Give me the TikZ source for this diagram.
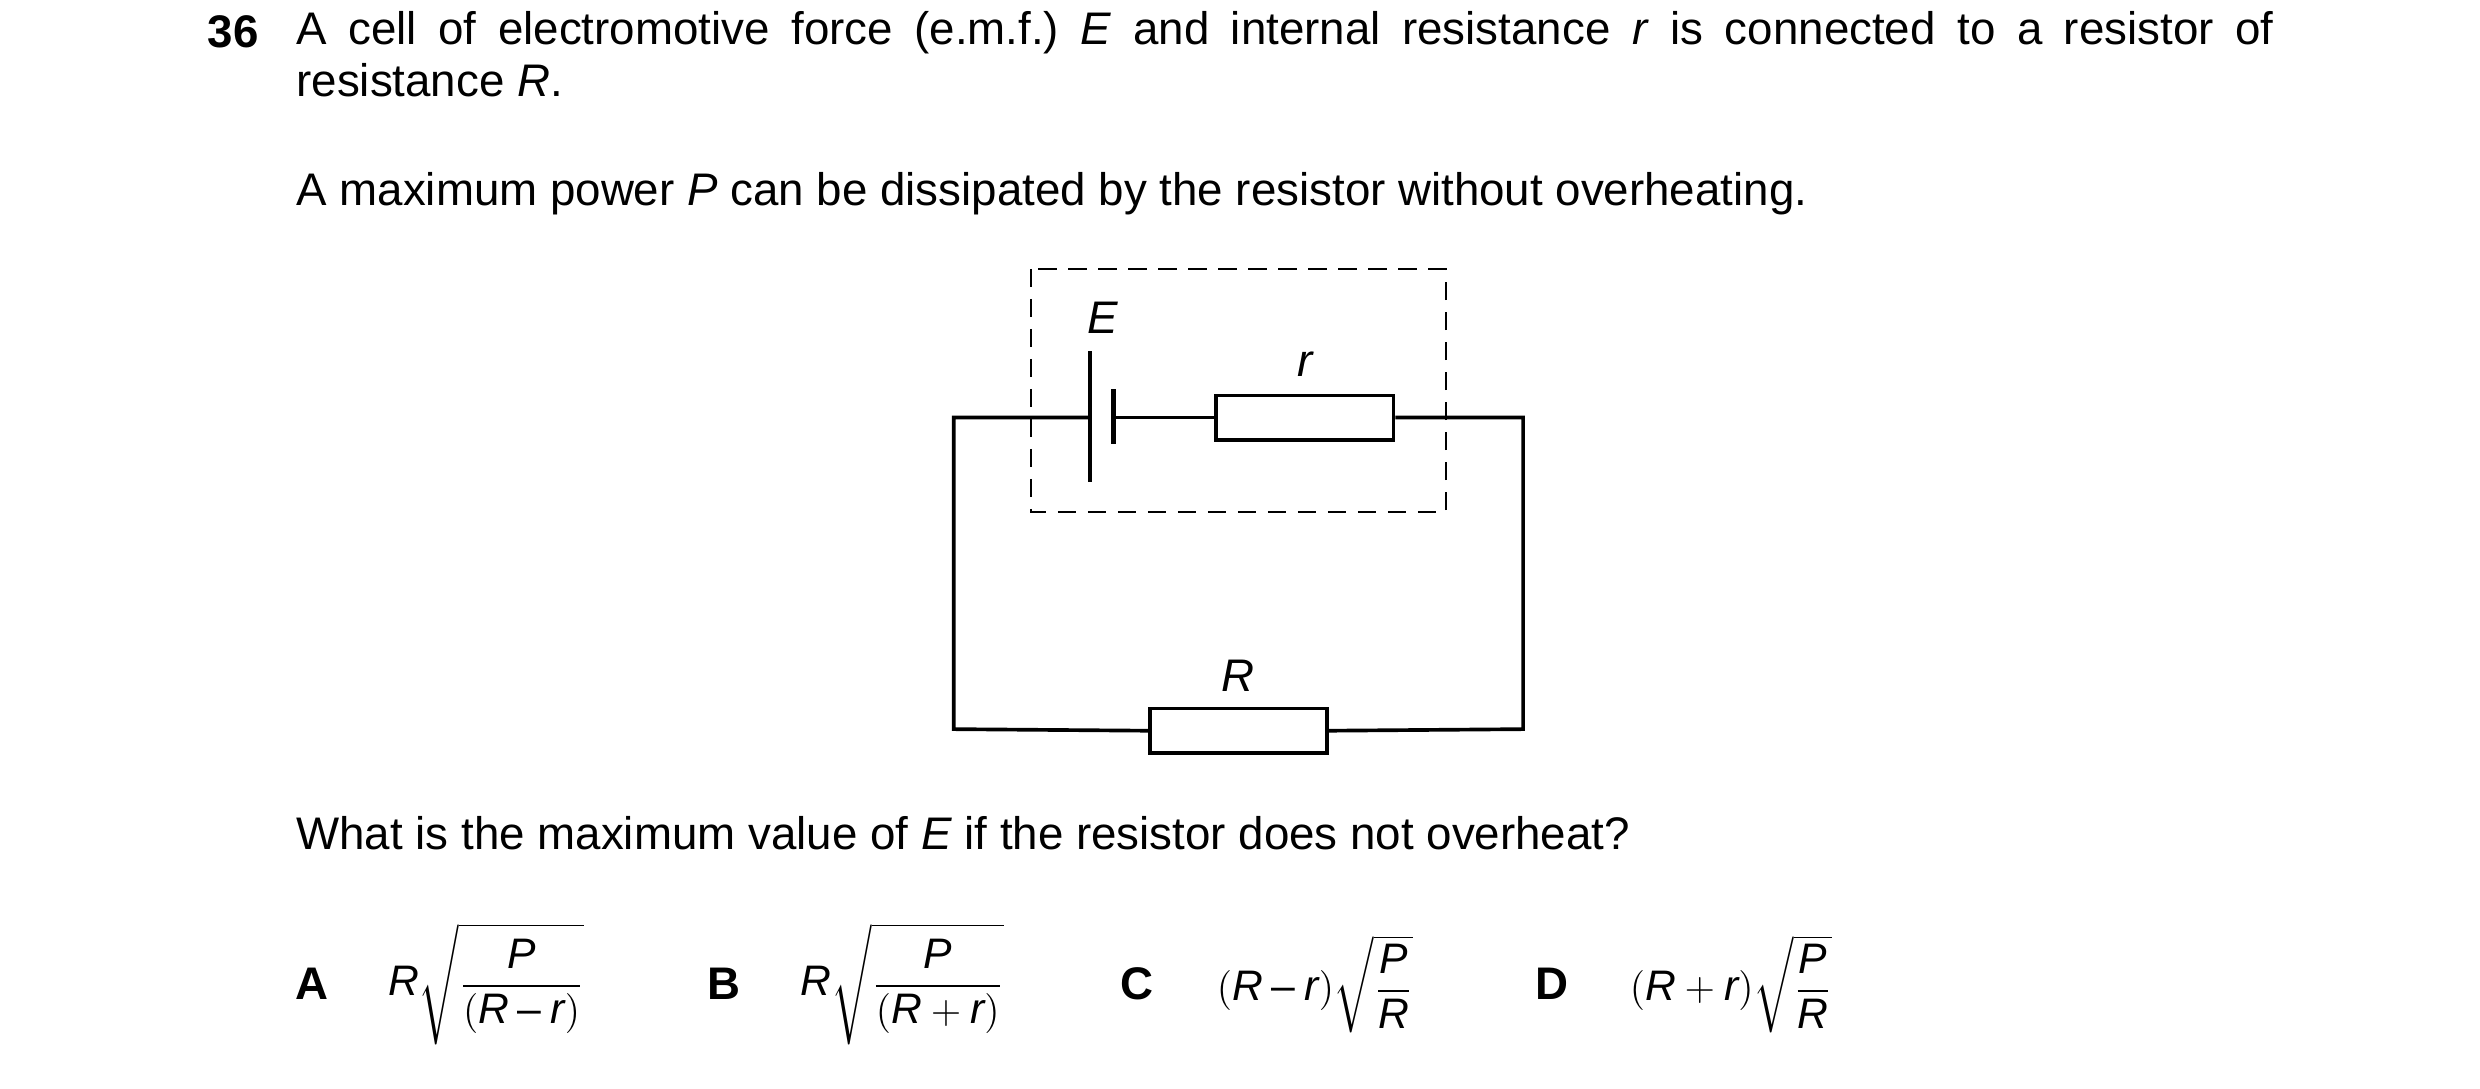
\documentclass[tikz,border=0pt]{standalone}
\usepackage{amsmath}
\usepackage{fontspec}
\setmainfont{Liberation Sans}
\usepackage[italic]{mathastext}
\frenchspacing
\begin{document}
\begin{tikzpicture}[x=0.1667mm,y=-0.1667mm,
  wire/.style={line width=1.1pt,line join=miter},
  res/.style={draw,line width=1.1pt,minimum width=112*0.1667mm,minimum height=28*0.1667mm,inner sep=0pt},
  txt/.style={font=\fontsize{13.7}{15.6}\selectfont,inner sep=0pt},
  fml/.style={font=\fontsize{12.8}{15.6}\selectfont,inner sep=0pt},
  lab/.style={font=\fontsize{13.7}{16}\selectfont\itshape,inner sep=0pt}]
\useasboundingbox (0,0) rectangle (1568,688.5);
\node[txt,anchor=base west,font=\fontsize{13.7}{16}\bfseries] (num) at (131,30) {36};
\node[txt,anchor=north west,text width=1250*0.1667mm,align=justify] (q1) at (187,7) {\frenchspacing A cell of electromotive force (e.m.f.)\ \textit{E} and internal resistance \textit{r} is connected to a resistor of\linebreak resistance \textit{R}.};
\node[txt,anchor=base west] (q2) at (187,130) {A maximum power \textit{P} can be dissipated by the resistor without overheating.};
\draw[dashed,line width=0.6pt,dash pattern=on 5.5pt off 3.5pt] (652,170) rectangle (914,324);
\coordinate (tl) at (603,264); \coordinate (tr) at (963,264);
\coordinate (bl) at (603,461); \coordinate (br) at (963,461);
\coordinate (pl) at (689,264); \coordinate (ps) at (704,264);
\node[res] (r) at (825,264) {};
\node[res] (R) at (783,462) {};
\draw[wire] (pl) -- (tl) -- (bl) -- (R.west);
\draw[wire] (R.east) -- (br) -- (tr) -- (r.east);
\draw[wire] (ps) -- (r.west);
\draw[line width=1.3pt] (689,222) -- (689,305);
\draw[line width=1.3pt] (704,246) -- (704,281);
\node[lab] (E) at (697,201) {E};
\node[lab] (rl) at (825,230) {r};
\node[lab] (Rl) at (783,427) {R};
\node[txt,anchor=base west] (q3) at (187,537) {What is the maximum value of \textit{E} if the resistor does not overheat?};
\node[txt,font=\fontsize{13.7}{16}\bfseries] (A) at (197,622) {A};
\node[fml,anchor=west] (fa) at (245,622) {$R\sqrt{\dfrac{P}{(R-r)}}$};
\node[txt,font=\fontsize{13.7}{16}\bfseries] (B) at (458,622) {B};
\node[fml,anchor=west] (fb) at (506,622) {$R\sqrt{\dfrac{P}{(R+r)}}$};
\node[txt,font=\fontsize{13.7}{16}\bfseries] (C) at (719,622) {C};
\node[fml,anchor=west] (fc) at (769,622) {$(R-r)\sqrt{\dfrac{P}{R}}$};
\node[txt,font=\fontsize{13.7}{16}\bfseries] (D) at (981,622) {D};
\node[fml,anchor=west] (fd) at (1030,622) {$(R+r)\sqrt{\dfrac{P}{R}}$};
\end{tikzpicture}
\end{document}
